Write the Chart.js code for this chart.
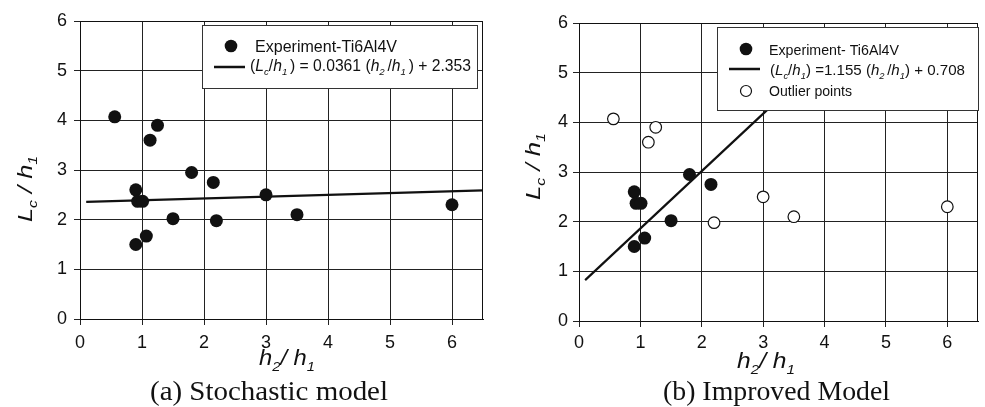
<!DOCTYPE html>
<html>
<head>
<meta charset="utf-8">
<script src="https://cdn.jsdelivr.net/npm/chart.js@4"></script>
<style>
  body { margin: 0; background: #fff; }
  #wrap { position: relative; width: 985px; height: 407px; }
  .panel { position: absolute; top: 0; }
</style>
</head>
<body>
<div id="wrap">
  <div class="panel" style="left:0"><canvas id="chartA" width="490" height="407"></canvas></div>
  <div class="panel" style="left:490px"><canvas id="chartB" width="495" height="407"></canvas></div>
</div>
<script>
// measured points, same in both panels
const h2h1 = [0.56, 1.25, 1.13, 1.80, 2.15, 0.90, 0.93, 1.01, 3.00, 1.50, 2.20, 3.50, 6.00, 1.07, 0.90];
const lch1 = [4.07, 3.90, 3.60, 2.95, 2.75, 2.60, 2.37, 2.37, 2.50, 2.02, 1.98, 2.10, 2.30, 1.67, 1.50];
const isOutlier = [true, true, true, false, false, false, false, false, true, false, true, true, true, false, false];

// fit lines (end points)
const fitAx = [0.1, 6.5];
const fitAy = [2.357, 2.588];
const fitBx = [0.1, 4.3];
const fitBy = [0.824, 5.675];

const xTicks = [0, 1, 2, 3, 4, 5, 6];
const yTicks = [0, 1, 2, 3, 4, 5, 6];

const SANS = '"Liberation Sans", Arial, sans-serif';
const SERIF = '"Liberation Serif", "Times New Roman", serif';

function pts(xs, ys, keep) {
  const out = [];
  xs.forEach((x, i) => { if (!keep || keep(i)) out.push({ x: x, y: ys[i] }); });
  return out;
}

function runFont(r, size) {
  const fs = r.sub ? size * 0.62 : size;
  return (r.it ? 'italic ' : '') + fs + 'px ' + SANS;
}
function runsWidth(ctx, runs, size) {
  let w = 0;
  runs.forEach(r => { ctx.font = runFont(r, size); w += ctx.measureText(r.t).width; });
  return w;
}
// draw text runs {t, it, sub} squeezed/stretched to a target width
function drawRuns(ctx, runs, x, y, size, target) {
  const w = runsWidth(ctx, runs, size);
  ctx.save();
  ctx.translate(x, y);
  ctx.scale(target ? target / w : 1, 1);
  let cx = 0;
  runs.forEach(r => {
    ctx.font = runFont(r, size);
    ctx.fillText(r.t, cx, r.sub ? size * 0.26 : 0);
    cx += ctx.measureText(r.t).width;
  });
  ctx.restore();
}

const yTitle = [{ t: 'L', it: 1 }, { t: 'c', it: 1, sub: 1 }, { t: ' / ', it: 1 }, { t: 'h', it: 1 }, { t: '1', it: 1, sub: 1 }];
const xTitle = [{ t: 'h', it: 1 }, { t: '2', it: 1, sub: 1 }, { t: '/ ', it: 1 }, { t: 'h', it: 1 }, { t: '1', it: 1, sub: 1 }];

function decorPlugin(cfg) {
  return {
    id: 'decor',
    afterDatasetsDraw(chart) {
      const ctx = chart.ctx;
      const a = chart.chartArea;
      ctx.save();
      // frame
      ctx.strokeStyle = '#111';
      ctx.lineWidth = 1;
      ctx.beginPath();
      ctx.moveTo(a.left, a.top + 0.5);
      ctx.lineTo(a.right - 0.5, a.top + 0.5);
      ctx.lineTo(a.right - 0.5, a.bottom);
      ctx.stroke();

      // legend box
      const L = cfg.legend;
      ctx.fillStyle = '#fff';
      ctx.fillRect(L.x, L.y, L.w, L.h);
      ctx.strokeStyle = '#333';
      ctx.strokeRect(L.x + 0.5, L.y + 0.5, L.w, L.h);
      ctx.textBaseline = 'alphabetic';
      ctx.textAlign = 'left';
      L.rows.forEach(row => {
        ctx.beginPath();
        if (row.mark === 'dot') {
          ctx.arc(L.mx, row.my, 6.3, 0, Math.PI * 2);
          ctx.fillStyle = '#111';
          ctx.fill();
        } else if (row.mark === 'ring') {
          ctx.arc(L.mx, row.my, 5.5, 0, Math.PI * 2);
          ctx.fillStyle = '#fff';
          ctx.fill();
          ctx.lineWidth = 1.2;
          ctx.strokeStyle = '#111';
          ctx.stroke();
        } else {
          ctx.moveTo(L.lx0, row.my);
          ctx.lineTo(L.lx1, row.my);
          ctx.lineWidth = 2.5;
          ctx.strokeStyle = '#111';
          ctx.stroke();
        }
        ctx.fillStyle = '#111';
        drawRuns(ctx, row.runs, row.tx || L.tx, row.by, L.fs, row.w);
      });

      // axis titles
      ctx.fillStyle = '#111';
      drawRuns(ctx, xTitle, cfg.xTitle.x0, cfg.xTitle.by, cfg.xTitle.fs, cfg.xTitle.w);
      ctx.save();
      ctx.translate(cfg.yTitle.bx, cfg.yTitle.y0);
      ctx.rotate(-Math.PI / 2);
      drawRuns(ctx, yTitle, 0, 0, cfg.yTitle.fs, cfg.yTitle.w);
      ctx.restore();

      // caption
      ctx.save();
      ctx.font = '27px ' + SERIF;
      const cw = ctx.measureText(cfg.caption).width;
      ctx.translate(cfg.capX0, 400);
      ctx.scale(cfg.capW / cw, 1);
      ctx.fillText(cfg.caption, 0, 0);
      ctx.restore();
      ctx.restore();
    }
  };
}

function makeChart(id, datasets, cfg) {
  return new Chart(document.getElementById(id), {
    type: 'scatter',
    data: { datasets: datasets },
    options: {
      responsive: false,
      animation: false,
      layout: { padding: cfg.padding },
      plugins: { legend: { display: false }, tooltip: { enabled: false } },
      scales: {
        x: {
          type: 'linear', min: 0, max: 6.5,
          afterFit: s => { s.height = cfg.xh; },
          afterBuildTicks: s => { s.ticks = xTicks.map(v => ({ value: v })); },
          ticks: { color: '#111', padding: cfg.xpad, font: { family: SANS, size: 18 } },
          grid: { color: '#222', lineWidth: 1, tickLength: 6, tickColor: '#222' },
          border: { color: '#111', width: 1 }
        },
        y: {
          type: 'linear', min: 0, max: 6,
          afterFit: s => { s.width = cfg.yw; },
          afterBuildTicks: s => { s.ticks = yTicks.map(v => ({ value: v })); },
          ticks: { color: '#111', padding: cfg.ypad, font: { family: SANS, size: 18 } },
          grid: { color: '#222', lineWidth: 1, tickLength: 6, tickColor: '#222' },
          border: { color: '#111', width: 1 }
        }
      }
    },
    plugins: [decorPlugin(cfg)]
  });
}

const lineStyle = { showLine: true, pointRadius: 0, borderColor: '#111', borderWidth: 2.2, fill: false };
const dotStyle = { pointRadius: 6.5, pointBackgroundColor: '#111', pointBorderColor: '#111', pointBorderWidth: 0, showLine: false };
const ringStyle = { pointRadius: 5.8, pointBackgroundColor: '#fff', pointBorderColor: '#111', pointBorderWidth: 1.2, showLine: false };

// (a) Stochastic model
makeChart('chartA', [
  Object.assign({ label: 'fit', data: pts(fitAx, fitAy), order: 2 }, lineStyle),
  Object.assign({ label: 'Experiment-Ti6Al4V', data: pts(h2h1, lch1), order: 1 }, dotStyle)
], {
  padding: { left: 0, top: 21, right: 7, bottom: 0 },
  xh: 88, yw: 80, xpad: 7, ypad: 7,
  xTitle: { x0: 259, w: 56, by: 365, fs: 22 },
  yTitle: { bx: 32, y0: 222, w: 66, fs: 21 },
  caption: '(a) Stochastic model', capX0: 150, capW: 238,
  legend: {
    x: 202, y: 25, w: 275, h: 63, fs: 16, mx: 231, lx0: 214, lx1: 245, tx: 255,
    rows: [
      { mark: 'dot', my: 46, by: 52, w: 142, runs: [{ t: 'Experiment-Ti6Al4V' }] },
      { mark: 'line', my: 67, by: 71, tx: 250, w: 221, runs: [
        { t: '(' }, { t: 'L', it: 1 }, { t: 'c', it: 1, sub: 1 }, { t: '/' }, { t: 'h', it: 1 }, { t: '1 ', it: 1, sub: 1 },
        { t: ') = 0.0361 (' }, { t: 'h', it: 1 }, { t: '2 ', it: 1, sub: 1 }, { t: '/' }, { t: 'h', it: 1 }, { t: '1 ', it: 1, sub: 1 },
        { t: ') + 2.353' }
      ] }
    ]
  }
});

// (b) Improved Model
makeChart('chartB', [
  Object.assign({ label: 'fit', data: pts(fitBx, fitBy), order: 3 }, lineStyle),
  Object.assign({ label: 'Experiment- Ti6Al4V', data: pts(h2h1, lch1, i => !isOutlier[i]), order: 1 }, dotStyle),
  Object.assign({ label: 'Outlier points', data: pts(h2h1, lch1, i => isOutlier[i]), order: 2 }, ringStyle)
], {
  padding: { left: 0, top: 23, right: 2, bottom: 0 },
  xh: 86, yw: 89, xpad: 5, ypad: 5,
  xTitle: { x0: 247, w: 58, by: 368, fs: 22 },
  yTitle: { bx: 50, y0: 200, w: 67, fs: 21 },
  caption: '(b) Improved Model', capX0: 173, capW: 227,
  legend: {
    x: 227, y: 27, w: 261, h: 83, fs: 15, mx: 256, lx0: 239, lx1: 270, tx: 279,
    rows: [
      { mark: 'dot', my: 49, by: 55, w: 130, runs: [{ t: 'Experiment- Ti6Al4V' }] },
      { mark: 'line', my: 69, by: 75, tx: 280, w: 195, runs: [
        { t: '(' }, { t: 'L', it: 1 }, { t: 'c', it: 1, sub: 1 }, { t: '/' }, { t: 'h', it: 1 }, { t: '1', it: 1, sub: 1 },
        { t: ') =1.155 (' }, { t: 'h', it: 1 }, { t: '2 ', it: 1, sub: 1 }, { t: '/' }, { t: 'h', it: 1 }, { t: '1', it: 1, sub: 1 },
        { t: ') + 0.708' }
      ] },
      { mark: 'ring', my: 91, by: 96, w: 83, runs: [{ t: 'Outlier points' }] }
    ]
  }
});
</script>
</body>
</html>
